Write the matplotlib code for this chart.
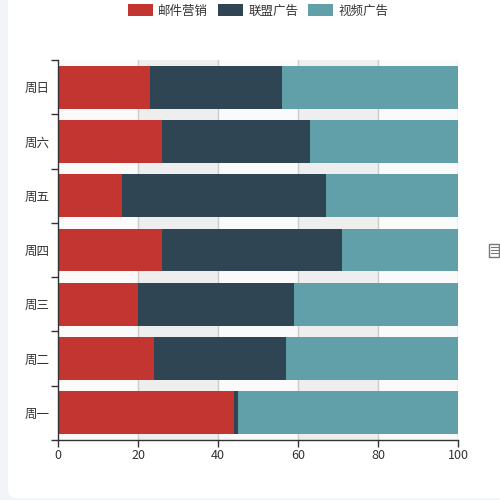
import numpy as np
import matplotlib.pyplot as plt
import matplotlib.patches as mpatches
from matplotlib.legend_handler import HandlerPatch

plt.rcParams['font.family'] = ['Noto Sans CJK SC', 'DejaVu Sans']

# Dados (percentual por dia)
dias = ["周一", "周二", "周三", "周四", "周五", "周六", "周日"]
series_nomes = ["邮件营销", "联盟广告", "视频广告"]
email = [44, 24, 20, 26, 16, 26, 23]
alianca = [1, 33, 39, 45, 51, 37, 33]
video = [55, 43, 41, 29, 33, 37, 44]
cores = ["#c23531", "#2f4554", "#61a0a8"]
xticks = [0, 20, 40, 60, 80, 100]

W, H = 500, 500
fig = plt.figure(figsize=(5, 5), dpi=100)
fig.patch.set_facecolor("#f3f4f8")

# Cartao branco
card = mpatches.FancyBboxPatch(
    (8 / W, 2 / H), (W - 8) / W + 0.05, (H - 2) / H + 0.05,
    boxstyle="round,pad=0,rounding_size=0.016",
    transform=fig.transFigure, facecolor="white", edgecolor="none", zorder=-10)
fig.add_artist(card)

ax = fig.add_axes([58 / W, 60 / H, 400 / W, 380 / H])
ax.set_zorder(1)
ax.set_facecolor("none")

y = np.arange(len(dias))
left = np.zeros(len(dias))
for nome, vals, cor in zip(series_nomes, [email, alianca, video], cores):
    ax.barh(y, vals, left=left, height=0.79, color=cor, label=nome, zorder=3)
    left = left + np.array(vals)

ax.set_xlim(0, 100)
ax.set_ylim(-0.5, len(dias) - 0.5)

# Areas alternadas
for i in range(len(xticks) - 1):
    c = "#fafafa" if i % 2 == 0 else "#eeeeee"
    ax.axvspan(xticks[i], xticks[i + 1], color=c, zorder=0, lw=0)
for xt in xticks[1:]:
    ax.axvline(xt, color="#cccccc", lw=1, zorder=1)

ax.set_xticks(xticks)
ax.set_yticks(y)
ax.set_yticklabels(dias)
ax.set_yticks(np.arange(-0.5, len(dias), 1), minor=True)
ax.tick_params(axis="y", which="major", length=0, pad=6, labelsize=9, labelcolor="#333333")
ax.tick_params(axis="y", which="minor", length=5, width=1, color="#333333")
ax.tick_params(axis="x", length=5, width=1, color="#333333", pad=1.5, labelsize=9, labelcolor="#333333")

for s in ["top", "right"]:
    ax.spines[s].set_visible(False)
for s in ["left", "bottom"]:
    ax.spines[s].set_color("#333333")
    ax.spines[s].set_linewidth(1)
    ax.spines[s].set_zorder(4)


# Legenda com icones arredondados
class HandlerRound(HandlerPatch):
    def create_artists(self, legend, orig_handle, xdescent, ydescent, width, height, fontsize, trans):
        p = mpatches.FancyBboxPatch((-xdescent, -ydescent), width, height,
                                    boxstyle="round,pad=0,rounding_size=3",
                                    facecolor=orig_handle.get_facecolor(), edgecolor="none",
                                    transform=trans)
        return [p]


handles, labels = ax.get_legend_handles_labels()
ax.legend(handles, labels, loc="center", bbox_to_anchor=(258 / W, 1 - 11 / H), bbox_transform=fig.transFigure,
          ncol=3, frameon=False, fontsize=9, handlelength=2.0, handleheight=1.1,
          handletextpad=0.45, columnspacing=0.75, labelcolor="#333333",
          handler_map={mpatches.Rectangle: HandlerRound()})

# Icone "data view" na direita
fig.add_artist(mpatches.Rectangle((489 / W, 243 / H), 10 / W, 13 / H, transform=fig.transFigure,
                                  fill=False, edgecolor="#777777", lw=1))
for yy in [247, 250, 253]:
    fig.add_artist(plt.Line2D([491 / W, 500 / W], [yy / H, yy / H], transform=fig.transFigure,
                              color="#777777", lw=0.8))

fig.savefig("out.png", dpi=100, facecolor=fig.get_facecolor())
